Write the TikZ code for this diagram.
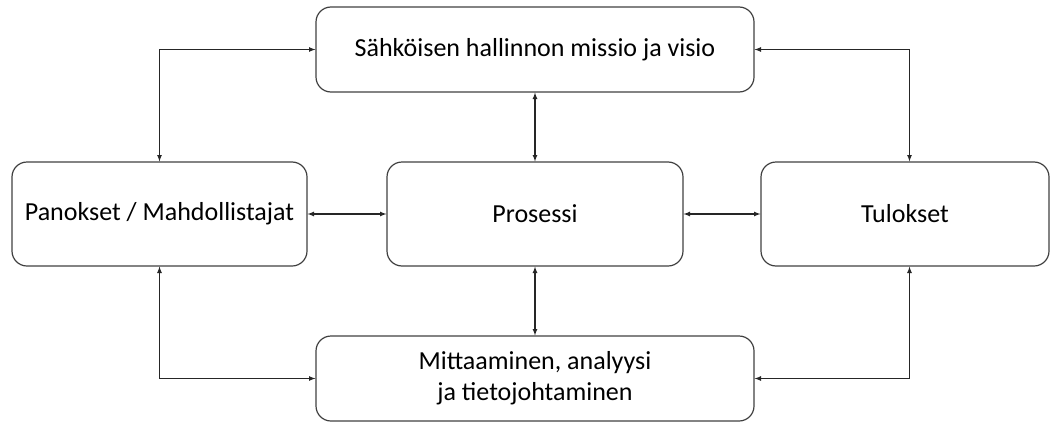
\documentclass[tikz,border=0pt]{standalone}
\usepackage{fontspec}
\setmainfont{Carlito}
\begin{document}
\begin{tikzpicture}[x=1pt,y=-1pt,line width=1.2pt,
  box/.style={draw=black!75,rounded corners=15pt,align=center,
    font=\fontsize{26}{31}\selectfont,inner sep=0pt},
  link/.style={draw=black!85,line width=1.2pt,arrows={latex-latex}}]
\useasboundingbox (0,0) rectangle (1051,423);
\node[box,minimum width=438pt,minimum height=85pt] (mission) at (535,49.5) {Sähköisen hallinnon missio ja visio};
\node[box,minimum width=295pt,minimum height=104pt] (inputs) at (159.5,214) {Panokset / Mahdollistajat};
\node[box,minimum width=296pt,minimum height=104pt] (process) at (535,214) {Prosessi};
\node[box,minimum width=288pt,minimum height=104pt] (results) at (905,214) {Tulokset};
\node[box,minimum width=438pt,minimum height=85pt] (measure) at (535,378.5) {Mittaaminen, analyysi\\ja tietojohtaminen};

\draw[link] (inputs.north) |- (mission.west);
\draw[link] (mission.east) -| ([xshift=4.5pt]results.north);
\draw[link] (mission.south) -- (process.north);
\draw[link] (inputs.east) -- (process.west);
\draw[link] (process.east) -- (results.west);
\draw[link] (process.south) -- (measure.north);
\draw[link] (inputs.south) |- (measure.west);
\draw[link] ([xshift=4.5pt]results.south) |- (measure.east);
\end{tikzpicture}
\end{document}
